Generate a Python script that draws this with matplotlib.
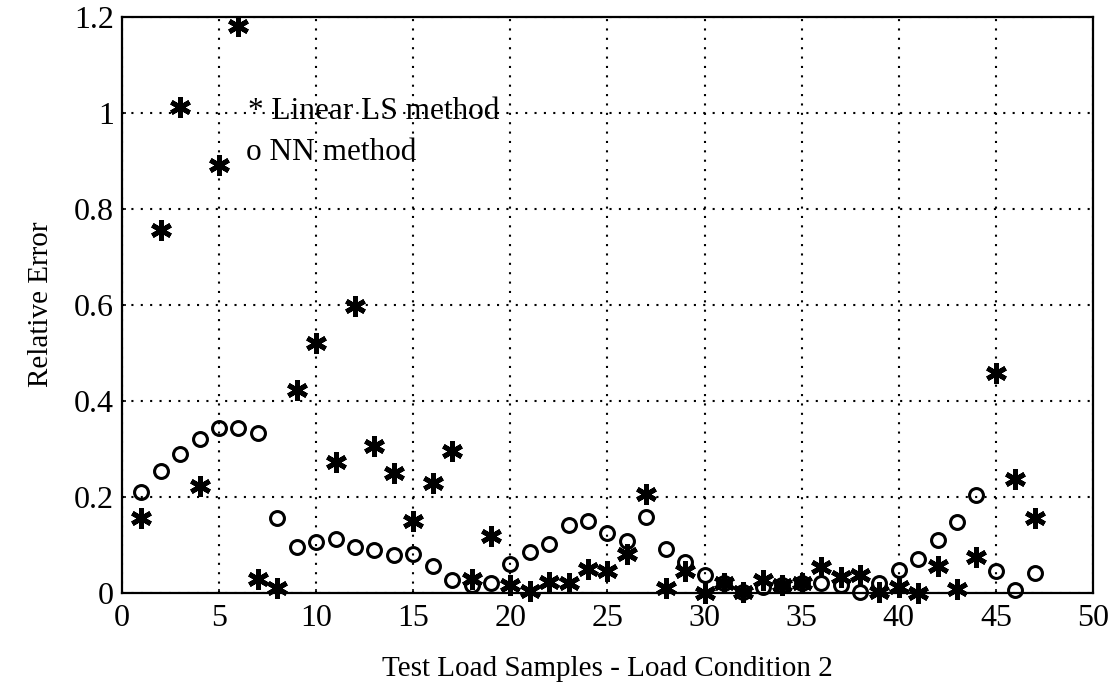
import matplotlib
matplotlib.use("Agg")
import matplotlib.pyplot as plt

# relative error per test sample, load condition 2
samples = list(range(1, 48))

linear_ls = [0.155, 0.755, 1.012, 0.222, 0.891, 1.182, 0.029, 0.009, 0.422, 0.520,
             0.273, 0.597, 0.305, 0.250, 0.150, 0.228, 0.295, 0.028, 0.118, 0.016,
             0.003, 0.022, 0.020, 0.050, 0.044, 0.080, 0.205, 0.009, 0.045, 0.000,
             0.020, 0.002, 0.026, 0.016, 0.019, 0.053, 0.033, 0.036, 0.001, 0.012,
             0.000, 0.056, 0.008, 0.073, 0.457, 0.236, 0.155]

nn = [0.210, 0.254, 0.288, 0.321, 0.342, 0.344, 0.333, 0.155, 0.094, 0.105,
      0.111, 0.094, 0.089, 0.078, 0.080, 0.055, 0.026, 0.015, 0.019, 0.059,
      0.085, 0.101, 0.140, 0.150, 0.124, 0.108, 0.157, 0.091, 0.064, 0.037,
      0.019, 0.002, 0.012, 0.016, 0.019, 0.019, 0.015, 0.002, 0.020, 0.047,
      0.070, 0.109, 0.148, 0.203, 0.045, 0.006, 0.040]

xticks = [0, 5, 10, 15, 20, 25, 30, 35, 40, 45, 50]
yticks = [0, 0.2, 0.4, 0.6, 0.8, 1.0, 1.2]
ytick_labels = ["0", "0.2", "0.4", "0.6", "0.8", "1", "1.2"]

plt.rcParams["font.family"] = ["Liberation Serif", "DejaVu Serif"]

fig = plt.figure(figsize=(11.17, 6.96), dpi=100)
ax = fig.add_axes([0.1092, 0.1487, 0.8693, 0.8269])

ax.plot(samples, linear_ls, linestyle="none", marker=(6, 2, 0), markersize=15,
        markeredgewidth=3.5, color="black", clip_on=False, zorder=3)
ax.plot(samples, nn, linestyle="none", marker="o", markersize=10,
        markerfacecolor="none", markeredgewidth=2.2, markeredgecolor="black",
        clip_on=False, zorder=3)

ax.set_xlim(0, 50)
ax.set_ylim(0, 1.2)
ax.set_xticks(xticks)
ax.set_xticklabels([str(t) for t in xticks])
ax.set_yticks(yticks)
ax.set_yticklabels(ytick_labels)

ax.grid(True, color="black", linestyle=(0, (1, 3.5)), linewidth=1.5)
ax.tick_params(direction="in", length=3, width=1.2, labelsize=23)
ax.tick_params(axis="x", pad=8)
ax.tick_params(axis="y", pad=6)
for sp in ax.spines.values():
    sp.set_linewidth(1.6)

ax.set_xlabel("Test Load Samples - Load Condition 2", fontsize=21, labelpad=17)
ax.set_ylabel("Relative Error", fontsize=21, labelpad=14)

ax.text(6.5, 1.003, "* Linear LS method", fontsize=22.5, va="center", ha="left")
ax.text(6.4, 0.918, "o NN method", fontsize=22.5, va="center", ha="left")

fig.savefig("out.png", dpi=100)
